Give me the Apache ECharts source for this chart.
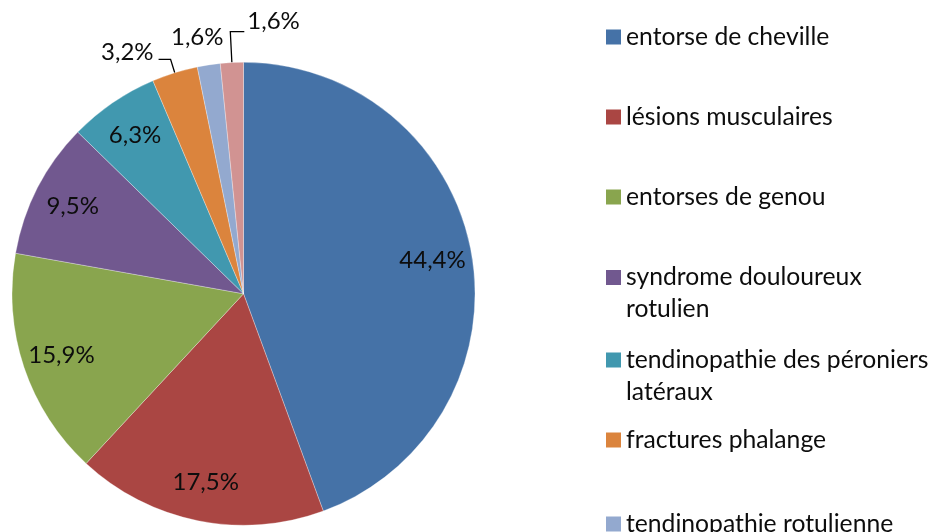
<!DOCTYPE html>
<html>
<head>
<meta charset="utf-8">
<style>
  html, body { margin: 0; padding: 0; background: #fff; }
  #chart { width: 938px; height: 532px; }
</style>
<script src="https://cdn.jsdelivr.net/npm/echarts@6/dist/echarts.min.js"></script>
</head>
<body>
<div id="chart"></div>
<script>
// chart values
const categories = [
  'entorse de cheville',
  'lésions musculaires',
  'entorses de genou',
  'syndrome douloureux rotulien',
  'tendinopathie des péroniers latéraux',
  'fractures phalange',
  'tendinopathie rotulienne',
  'autres'
]
const legendLabels = [
  'entorse de cheville',
  'lésions musculaires',
  'entorses de genou',
  'syndrome douloureux\nrotulien',
  'tendinopathie des péroniers\nlatéraux',
  'fractures phalange',
  'tendinopathie rotulienne',
  'autres'
]
const percents = [44.4, 17.5, 15.9, 9.5, 6.3, 3.2, 1.6, 1.6]
const colors = ['#4572A7', '#AA4643', '#89A54E', '#71588F', '#4198AF', '#DB843D', '#93A9CF', '#D19392']

const FONT = 'Lato'
const center = [243.5, 293.75]
const legendRows = [37, 117, 197, 277.5, 360, 440, 524, 604]

const fmt = v => v.toFixed(1).replace('.', ',') + '%'

// square icon at the top of a taller box, so the square lines up with the first text line
const tallIcon = 'path://M0,0H15V15H0Z M0,46.99H0.01V47H0Z'

const chart = echarts.init(document.getElementById('chart'))

const mainData = percents.map((v, i) => {
  const item = { name: categories[i], value: v, itemStyle: { color: colors[i] } }
  if (i < 5) {
    item.label = { show: false }
    item.labelLine = { show: false }
  } else if (i === 5) {
    item.labelLine = { length: 14, length2: 12 }
  } else if (i === 6) {
    item.labelLine = { length: 4, length2: 0, lineStyle: { width: 0, opacity: 0 } }
  } else {
    item.labelLine = { length: 31, length2: 0 }
  }
  return item
})

const ringData = percents.map((v, i) => ({
  name: categories[i],
  value: v,
  label: { show: i < 5 }
}))

chart.setOption({
  animation: false,
  legend: categories.map((name, i) => {
    const twoLine = legendLabels[i].indexOf('\n') >= 0
    return {
      data: [name],
      orient: 'vertical',
      left: 606,
      top: legendRows[i] - 16,
      padding: 0,
      itemWidth: 15,
      itemHeight: twoLine ? 47 : 15,
      icon: twoLine ? tallIcon : 'rect',
      itemStyle: { borderWidth: 0 },
      selectedMode: false,
      formatter: () => legendLabels[i],
      textStyle: {
        fontFamily: FONT,
        fontSize: 24.7,
        color: '#0d0d0d',
        lineHeight: 32
      }
    }
  }),
  series: [
    {
      type: 'pie',
      center: center,
      radius: 231.5,
      startAngle: 90,
      clockwise: true,
      avoidLabelOverlap: false,
      itemStyle: { borderColor: '#fff', borderWidth: 0.3 },
      emphasis: { disabled: true },
      label: {
        position: 'outside',
        fontFamily: FONT,
        fontSize: 24,
        color: '#0d0d0d',
        formatter: p => fmt(p.value)
      },
      labelLine: {
        lineStyle: { color: '#000', width: 1.3 }
      },
      labelLayout: p => {
        const pts = p.labelLinePoints
        if (!pts) return
        if (p.dataIndex === 5) {
          return { y: pts[2][1] - 7, labelLinePoints: pts }
        }
        if (p.dataIndex === 6) {
          return {
            x: pts[0][0] - 11.5, y: pts[0][1] - 28,
            align: 'center', verticalAlign: 'middle',
            labelLinePoints: [pts[0], pts[0], pts[0]]
          }
        }
        if (p.dataIndex === 7) {
          const end = [pts[1][0] + 14, pts[1][1]]
          return {
            x: end[0] + 3, y: pts[1][1] - 10,
            align: 'left', verticalAlign: 'middle',
            labelLinePoints: [pts[0], pts[1], end]
          }
        }
      },
      data: mainData
    },
    {
      // transparent ring that carries the inside labels
      type: 'pie',
      center: center,
      radius: [150, 228],
      startAngle: 90,
      clockwise: true,
      silent: true,
      avoidLabelOverlap: false,
      itemStyle: { color: 'rgba(0,0,0,0)' },
      emphasis: { disabled: true },
      label: {
        position: 'inside',
        fontFamily: FONT,
        fontSize: 24,
        color: '#0d0d0d',
        formatter: p => fmt(p.value)
      },
      labelLine: { show: false },
      data: ringData
    }
  ]
})
</script>
</body>
</html>
